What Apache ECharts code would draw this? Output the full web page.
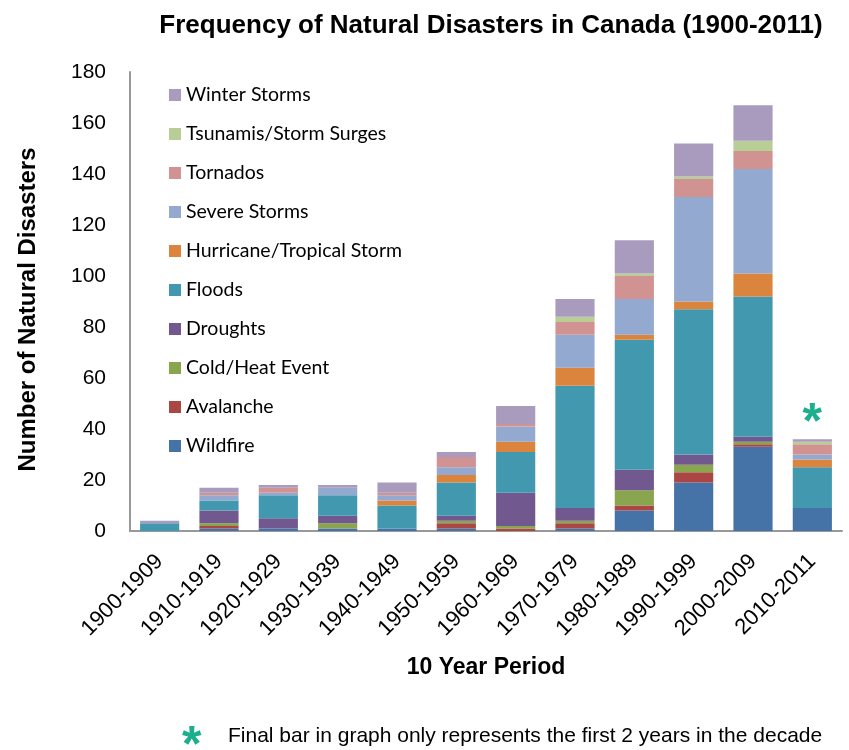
<!DOCTYPE html>
<html>
<head>
<meta charset="utf-8">
<title>Frequency of Natural Disasters in Canada</title>
<script src="https://cdn.jsdelivr.net/npm/echarts@6/dist/echarts.min.js"></script>
<style>
  html, body { margin: 0; padding: 0; background: #fff; }
  #chart { width: 849px; height: 750px; }
</style>
</head>
<body>
<div id="chart"></div>
<script>
  const periods = ['1900-1909', '1910-1919', '1920-1929', '1930-1939', '1940-1949', '1950-1959',
    '1960-1969', '1970-1979', '1980-1989', '1990-1999', '2000-2009', '2010-2011']
  const yTicks = [0, 20, 40, 60, 80, 100, 120, 140, 160, 180]

  // bottom of the stack first
  const wildfire = [0, 1, 1, 1, 1, 1, 0, 1, 8, 19, 33, 9]
  const avalanche = [0, 1, 0, 0, 0, 2, 1, 2, 2, 4, 1, 0]
  const coldHeat = [0, 1, 0, 2, 0, 1, 1, 1, 6, 3, 1, 0]
  const droughts = [0, 5, 4, 3, 0, 2, 13, 5, 8, 4, 2, 0]
  const floods = [3, 4, 9, 8, 9, 13, 16, 48, 51, 57, 55, 16]
  const hurricane = [0, 0, 0, 0, 2, 3, 4, 7, 2, 3, 9, 3]
  const severeStorms = [0, 2, 1, 3, 2, 3, 6, 13, 14, 41, 41, 2]
  const tornados = [0, 1, 2, 0, 1, 4, 1, 5, 9, 7, 7, 4]
  const tsunamis = [0, 0, 0, 0, 0, 0, 0, 2, 1, 1, 4, 1]
  const winterStorms = [1, 2, 1, 1, 4, 2, 7, 7, 13, 13, 14, 1]

  const names = ['Wildfire', 'Avalanche', 'Cold/Heat Event', 'Droughts', 'Floods',
    'Hurricane/Tropical Storm', 'Severe Storms', 'Tornados', 'Tsunamis/Storm Surges', 'Winter Storms']
  const colors = ['#4572A7', '#AA4643', '#89A54E', '#71588F', '#4198AF',
    '#DB843D', '#93A9CF', '#D19392', '#B9CD96', '#A99BBD']
  const values = [wildfire, avalanche, coldHeat, droughts, floods,
    hurricane, severeStorms, tornados, tsunamis, winterStorms]

  const partial = '2010-2011' // only first 2 years of that decade
  const starColor = '#1BAF8E'
  const font = 'Liberation Sans, Arial, sans-serif'

  const series = names.map((name, i) => {
    const s = {
      name: name,
      type: 'bar',
      stack: 'total',
      barCategoryGap: '34%',
      itemStyle: { color: colors[i] },
      data: values[i]
    }
    if (i === names.length - 1) {
      s.data = values[i].map((v, j) => {
        if (periods[j] !== partial) return v
        return {
          value: v,
          label: {
            show: true,
            position: 'top',
            distance: -10,
            formatter: '*',
            color: starColor,
            fontSize: 50,
            fontWeight: 'bold',
            fontFamily: font
          }
        }
      })
    }
    return s
  })

  const chart = echarts.init(document.getElementById('chart'))
  chart.setOption({
    animation: false,
    color: colors,
    title: {
      text: 'Frequency of Natural Disasters in Canada (1900-2011)',
      left: 486,
      top: 8,
      textAlign: 'center',
      textStyle: { fontFamily: font, fontSize: 26, fontWeight: 'bold', color: '#000' }
    },
    legend: {
      orient: 'vertical',
      left: 169,
      top: 85,
      padding: 0,
      itemWidth: 12,
      itemHeight: 12,
      itemGap: 19,
      icon: 'rect',
      data: names.slice().reverse(),
      textStyle: { fontFamily: 'Lato, sans-serif', fontSize: 19.5, color: '#000' }
    },
    grid: {
      left: 130,
      right: 7,
      top: 72,
      bottom: 219
    },
    xAxis: {
      type: 'category',
      data: periods,
      name: '10 Year Period',
      nameLocation: 'middle',
      nameGap: 125,
      nameTextStyle: { fontFamily: font, fontSize: 23, fontWeight: 'bold', color: '#000' },
      axisLine: { lineStyle: { color: '#999', width: 2 } },
      axisTick: { show: false },
      axisLabel: {
        rotate: 45,
        interval: 0,
        margin: 27,
        fontFamily: font,
        fontSize: 22,
        color: '#000'
      }
    },
    yAxis: {
      type: 'value',
      min: yTicks[0],
      max: yTicks[yTicks.length - 1],
      interval: yTicks[1] - yTicks[0],
      name: 'Number of Natural Disasters',
      nameLocation: 'middle',
      nameGap: 90,
      nameTextStyle: {
        fontFamily: font, fontSize: 24, fontWeight: 'bold', color: '#000',
        padding: [0, 16, 0, 0]
      },
      axisLine: { show: true, lineStyle: { color: '#999', width: 2 } },
      axisTick: { show: false },
      splitLine: { show: false },
      axisLabel: { margin: 24, fontFamily: font, fontSize: 21, color: '#000' }
    },
    graphic: [
      {
        type: 'text',
        left: 182,
        top: 722,
        style: { text: '*', fill: starColor, fontSize: 50, fontWeight: 'bold', fontFamily: font }
      },
      {
        type: 'text',
        left: 228,
        top: 726,
        style: {
          text: 'Final bar in graph only represents the first 2 years in the decade',
          fill: '#000',
          fontSize: 21,
          fontFamily: font
        }
      }
    ],
    series: series
  })
</script>
</body>
</html>
